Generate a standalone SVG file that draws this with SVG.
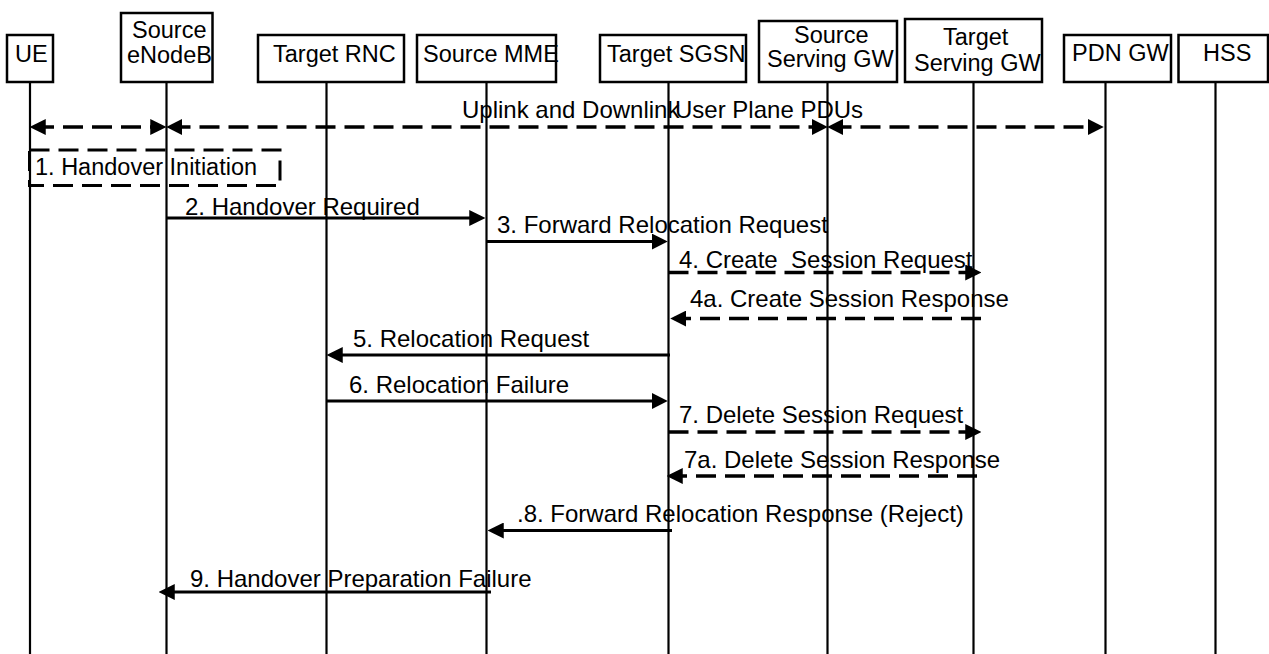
<svg xmlns="http://www.w3.org/2000/svg" width="1269" height="654" viewBox="0 0 1269 654">
<style>
.box{fill:#fff;stroke:#000;stroke-width:2.5}
.life{stroke:#000;stroke-width:2.2}
.lbl{font-family:"Liberation Sans",Arial,sans-serif;font-size:23.5px;fill:#000}
.msg{font-family:"Liberation Sans",Arial,sans-serif;font-size:24px;fill:#000}
.sol{stroke:#000;stroke-width:3.2;fill:none}
.dsh{stroke:#000;stroke-width:3.4;fill:none;stroke-dasharray:20 9}
.one{marker-end:url(#ah)}
.two{marker-start:url(#ah);marker-end:url(#ah)}
</style>
<defs>
<marker id="ah" markerUnits="userSpaceOnUse" markerWidth="16" markerHeight="16" viewBox="0 0 15 15" refX="11" refY="7.5" orient="auto-start-reverse">
<path d="M0,0 L15,7.5 L0,15 Z" fill="#000" stroke="none"/>
</marker>
</defs>
<rect width="1269" height="654" fill="#fff"/>
<g id="lifelines">
<line class="life" x1="30" y1="82" x2="30" y2="654"/>
<line class="life" x1="166.5" y1="82" x2="166.5" y2="654"/>
<line class="life" x1="326.5" y1="82" x2="326.5" y2="654"/>
<line class="life" x1="486.5" y1="82" x2="486.5" y2="654"/>
<line class="life" x1="668.5" y1="82" x2="668.5" y2="654"/>
<line class="life" x1="827.5" y1="82" x2="827.5" y2="654"/>
<line class="life" x1="973.5" y1="82" x2="973.5" y2="654"/>
<line class="life" x1="1105.5" y1="82" x2="1105.5" y2="654"/>
<line class="life" x1="1215.5" y1="82" x2="1215.5" y2="654"/>
</g>
<g id="ue"><rect class="box" x="7" y="35" width="46" height="47"/><text class="lbl" x="15" y="62">UE</text></g>
<g id="source-enodeb"><rect class="box" x="121" y="13" width="91.5" height="69"/><text class="lbl" x="132" y="38">Source</text><text class="lbl" x="127" y="63">eNodeB</text></g>
<g id="target-rnc"><rect class="box" x="258" y="35" width="146" height="47"/><text class="lbl" x="273" y="62">Target RNC</text></g>
<g id="source-mme"><rect class="box" x="417" y="35" width="139" height="47"/><text class="lbl" x="423" y="61.5">Source MME</text></g>
<g id="target-sgsn"><rect class="box" x="600" y="35" width="146" height="47"/><text class="lbl" x="607" y="61.5">Target SGSN</text></g>
<g id="source-sgw"><rect class="box" x="759" y="21" width="138" height="61"/><text class="lbl" x="794" y="43">Source</text><text class="lbl" x="767" y="67">Serving GW</text></g>
<g id="target-sgw"><rect class="box" x="905" y="19" width="137" height="63"/><text class="lbl" x="943" y="45">Target</text><text class="lbl" x="914" y="71">Serving GW</text></g>
<g id="pdn-gw"><rect class="box" x="1064" y="35" width="107" height="47"/><text class="lbl" x="1072" y="61">PDN GW</text></g>
<g id="hss"><rect class="box" x="1178.5" y="35" width="89.5" height="47"/><text class="lbl" x="1203" y="61">HSS</text></g>
<g id="handover-initiation"><rect class="dsh" x="29.5" y="150" width="250.5" height="35.5" style="stroke-width:3"/><text class="lbl" x="35" y="175">1. Handover Initiation</text></g>
<g id="connectors">
<line class="dsh two" x1="34" y1="127" x2="162" y2="127"/>
<line class="dsh two" x1="170.5" y1="127" x2="823.5" y2="127"/>
<line class="dsh two" x1="831.5" y1="127" x2="1099.5" y2="127"/>
<line class="sol one" x1="166.5" y1="218" x2="481" y2="218"/>
<line class="sol one" x1="486.5" y1="241.5" x2="663.5" y2="241.5"/>
<line class="dsh one" x1="668.5" y1="272.5" x2="977" y2="272.5"/>
<line class="dsh one" x1="981" y1="318.5" x2="674.5" y2="318.5"/>
<line class="sol one" x1="670" y1="355" x2="331" y2="355"/>
<line class="sol one" x1="326.5" y1="401" x2="663.5" y2="401"/>
<line class="dsh one" x1="668.5" y1="432" x2="977" y2="432"/>
<line class="dsh one" x1="977" y1="476" x2="671" y2="476"/>
<line class="sol one" x1="672" y1="530.5" x2="492" y2="530.5"/>
<line class="sol one" x1="491" y1="592" x2="163" y2="592"/>
</g>
<g id="labels">
<text class="msg" x="462" y="118">Uplink and Downlink</text>
<text class="msg" x="675" y="118">User Plane PDUs</text>
<text class="msg" x="185" y="215">2. Handover Required</text>
<text class="msg" x="497" y="233">3. Forward Relocation Request</text>
<text class="msg" x="679" y="268">4. Create&#160; Session Request</text>
<text class="msg" x="690" y="307">4a. Create Session Response</text>
<text class="msg" x="353" y="347">5. Relocation Request</text>
<text class="msg" x="349" y="393">6. Relocation Failure</text>
<text class="msg" x="679" y="423">7. Delete Session Request</text>
<text class="msg" x="684" y="468">7a. Delete Session Response</text>
<text class="msg" x="517" y="522">.8. Forward Relocation Response (Reject)</text>
<text class="msg" x="190" y="587">9. Handover Preparation Failure</text>
</g>
</svg>
